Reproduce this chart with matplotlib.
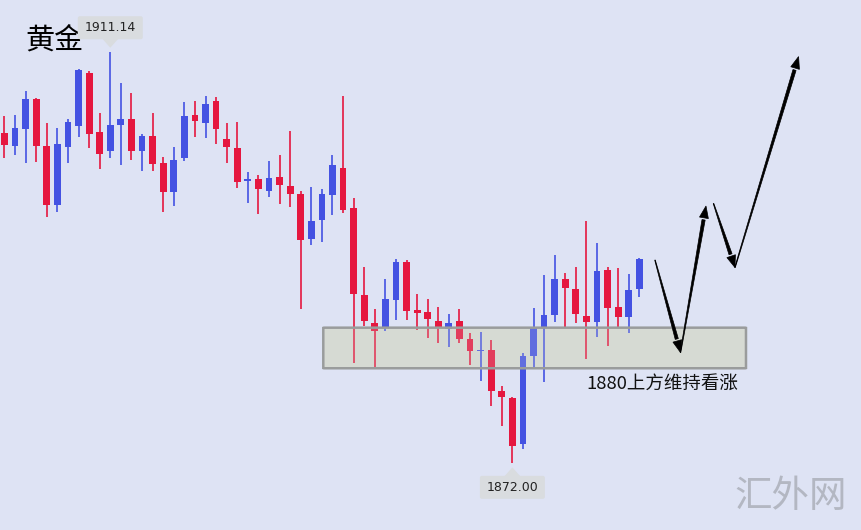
import matplotlib
matplotlib.use("Agg")
import matplotlib.pyplot as plt
from matplotlib.patches import Polygon, FancyBboxPatch
from matplotlib.transforms import IdentityTransform
import numpy as np

plt.rcParams['font.family'] = ['Noto Sans CJK SC', 'DejaVu Sans']

# ---- data (gold, OHLC) ----
opens = [1903.44, 1902.17, 1903.82, 1906.64, 1902.17, 1896.59, 1902.11, 1904.10, 1909.14, 1903.50,
         1901.73, 1904.17, 1904.74, 1901.73, 1903.12, 1900.59, 1897.83, 1901.00, 1905.12, 1904.39,
         1906.48, 1902.84, 1901.98, 1898.87, 1899.04, 1897.92, 1899.20, 1898.37, 1897.61, 1893.36,
         1895.14, 1897.51, 1900.11, 1896.31, 1888.00, 1885.31, 1884.93, 1887.53, 1891.17, 1886.58,
         1886.36, 1885.56, 1884.74, 1885.53, 1883.85, 1882.68, 1882.77, 1878.90, 1878.24, 1873.84,
         1882.20, 1884.93, 1886.10, 1889.53, 1888.58, 1886.01, 1885.47, 1890.38, 1886.84, 1885.94,
         1888.60]
highs = [1905.03, 1905.12, 1907.43, 1906.74, 1904.39, 1903.88, 1904.74, 1909.49, 1909.33, 1905.34,
         1911.14, 1908.19, 1907.24, 1903.29, 1905.28, 1901.16, 1902.11, 1906.39, 1906.48, 1906.93,
         1906.80, 1904.39, 1904.48, 1899.73, 1899.42, 1900.78, 1901.32, 1903.63, 1897.89, 1898.30,
         1898.11, 1901.32, 1906.93, 1897.20, 1890.70, 1886.65, 1889.50, 1891.40, 1891.33, 1888.10,
         1887.60, 1886.89, 1886.20, 1886.65, 1884.42, 1884.52, 1883.73, 1879.35, 1878.33, 1882.46,
         1886.77, 1889.91, 1891.81, 1890.07, 1890.70, 1895.07, 1892.98, 1890.70, 1890.54, 1890.00,
         1891.49]
lows = [1901.03, 1901.32, 1900.59, 1900.68, 1895.42, 1895.93, 1900.59, 1903.06, 1901.95, 1900.01,
        1901.00, 1900.37, 1900.84, 1899.82, 1899.82, 1895.93, 1896.47, 1900.78, 1903.06, 1902.98,
        1902.33, 1900.59, 1898.21, 1896.78, 1895.71, 1897.30, 1896.66, 1896.40, 1886.65, 1892.76,
        1893.07, 1895.61, 1895.83, 1881.51, 1885.06, 1881.19, 1884.58, 1885.63, 1885.63, 1884.68,
        1883.89, 1883.41, 1883.03, 1883.47, 1881.35, 1879.86, 1877.45, 1875.55, 1872.00, 1873.33,
        1881.03, 1879.76, 1885.47, 1884.93, 1885.37, 1881.89, 1883.98, 1883.16, 1884.93, 1884.42,
        1887.79]
closes = [1902.27, 1903.88, 1906.64, 1902.17, 1896.59, 1902.36, 1904.48, 1909.40, 1903.31, 1901.41,
          1904.17, 1904.74, 1901.73, 1903.12, 1900.46, 1897.83, 1900.84, 1905.03, 1904.58, 1906.17,
          1903.82, 1902.11, 1898.78, 1899.01, 1898.06, 1899.10, 1898.49, 1897.61, 1893.23, 1895.04,
          1897.61, 1900.37, 1896.09, 1888.10, 1885.53, 1884.63, 1887.60, 1891.17, 1886.51, 1886.32,
          1885.72, 1884.99, 1885.31, 1883.79, 1882.71, 1882.77, 1878.90, 1878.33, 1873.67, 1882.20,
          1884.84, 1886.10, 1889.53, 1888.64, 1886.20, 1885.47, 1890.32, 1886.80, 1885.94, 1888.48,
          1891.43]

title_text = "黄金"
note_text = "1880上方维持看涨"
watermark = "汇外网"
max_label = "1911.14"
min_label = "1872.00"

# support zone (price range) and x span (bar index)
zone_low, zone_high = 1881.04, 1884.90
zone_x0, zone_x1 = 30.13, 70.08

# projected path arrows (bar index, price)
arrow_paths = [((61.48, 1891.33), (63.89, 1882.54)),
               ((63.89, 1882.54), (66.30, 1896.47)),
               ((67.01, 1896.71), (69.04, 1890.62)),
               ((69.04, 1890.62), (75.05, 1910.68))]

# ---- styling ----
BG = '#dee3f4'
UP = '#4452e2'
DOWN = '#e5173f'

W, H = 861, 530
fig = plt.figure(figsize=(W / 100, H / 100), dpi=100, facecolor=BG)
ax = fig.add_axes([0, 0, 1, 1])
ax.set_facecolor(BG)
ax.set_xlim(-0.425, 80.95)
ax.set_ylim(1865.66, 1916.06)
ax.axis('off')

n = len(opens)
x = np.arange(n)
o = np.array(opens); c = np.array(closes); h = np.array(highs); l = np.array(lows)
colors = [UP if cc >= oo else DOWN for oo, cc in zip(o, c)]

# zone background
ax.add_patch(FancyBboxPatch((zone_x0, zone_low), zone_x1 - zone_x0, zone_high - zone_low,
                            boxstyle="round,pad=0,rounding_size=0.15",
                            facecolor='#d6dad3', edgecolor='none',
                            mutation_aspect=0.12, zorder=1))

ax.vlines(x, l, h, colors=colors, linewidth=1.2, zorder=2)
bottoms = np.minimum(o, c)
heights = np.maximum(np.abs(c - o), 0.12)
ax.bar(x, heights, bottom=bottoms, width=0.64, color=colors, linewidth=0, zorder=3)

# translucent zone overlay + border drawn over the candles
ax.add_patch(FancyBboxPatch((zone_x0, zone_low), zone_x1 - zone_x0, zone_high - zone_low,
                            boxstyle="round,pad=0,rounding_size=0.15",
                            facecolor=(0.84, 0.855, 0.83, 0.2), edgecolor='#9a9c9c',
                            linewidth=1.8, mutation_aspect=0.12, zorder=4))

fig.canvas.draw()
tr = ax.transData

def price_tag(idx, price, text, above):
    px, py = tr.transform((idx, price))
    sgn = 1 if above else -1
    tri = [(px, py + sgn * 4), (px - 8, py + sgn * 13), (px + 8, py + sgn * 13)]
    fig.patches.append(Polygon(tri, closed=True, transform=IdentityTransform(),
                               facecolor='#d9dcdf', edgecolor='none', zorder=5))
    cy = py + sgn * 24
    bw, bh = 65, 23
    fig.patches.append(FancyBboxPatch((px - bw / 2, cy - bh / 2), bw, bh,
                                      boxstyle="round,pad=0,rounding_size=2",
                                      transform=IdentityTransform(),
                                      facecolor='#d9dcdf', edgecolor='none', zorder=5))
    fig.text(px / W, cy / H, text, ha='center', va='center', fontsize=9,
             family=['DejaVu Sans'], color='#222222', zorder=6)

imax = int(np.argmax(h)); imin = int(np.argmin(l))
price_tag(imax, h[imax], max_label, True)
price_tag(imin, l[imin], min_label, False)

def taper_arrow(p0, p1, w0=0.6, w1=3.2, head_len=14, head_w=9):
    a = np.array(tr.transform(p0)); b = np.array(tr.transform(p1))
    d = b - a; L = np.hypot(*d); u = d / L; nrm = np.array([-u[1], u[0]])
    base = b - u * head_len
    shaft = [a + nrm * w0 / 2, base + nrm * w1 / 2, base - nrm * w1 / 2, a - nrm * w0 / 2]
    head = [b, base + nrm * head_w / 2 + u * 2, base - nrm * head_w / 2 + u * 2]
    for poly in (shaft, head):
        fig.patches.append(Polygon(poly, closed=True, transform=IdentityTransform(),
                                   facecolor='black', edgecolor='black', linewidth=0.5, zorder=7))

for p0, p1 in arrow_paths:
    taper_arrow(p0, p1)

fig.text(25 / W, 1 - 41 / H, title_text, fontsize=21, color='black', ha='left', va='center')
fig.text(586 / W, 1 - 384 / H, note_text, fontsize=13.3, color='#111111', ha='left', va='center')
fig.text(791 / W, 1 - 497 / H, watermark, fontsize=27, color='#b3b7c2', ha='center', va='center',
         fontweight='light')

fig.savefig('out.png', dpi=100, facecolor=BG)
